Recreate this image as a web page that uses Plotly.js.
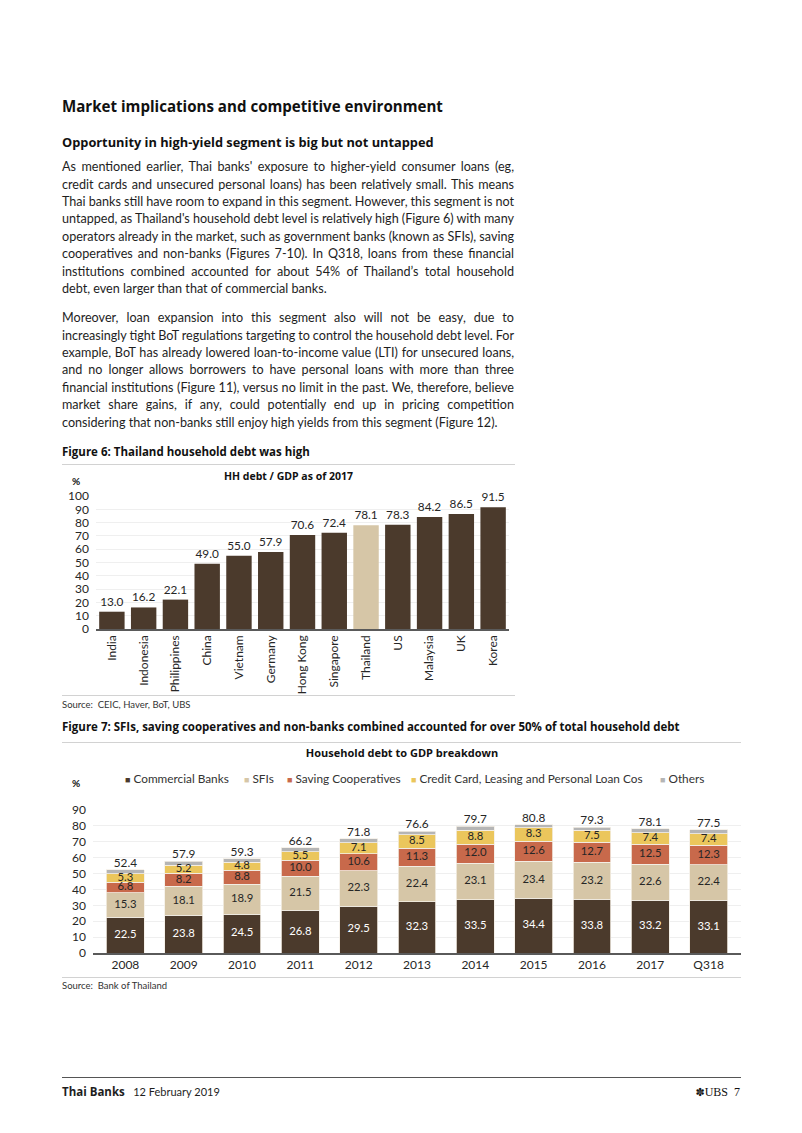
<!DOCTYPE html>
<html><head><meta charset="utf-8">
<script src="https://cdn.plot.ly/plotly-3.0.1.min.js"></script>
<style>
body{margin:0;background:#fff;}
#page{position:relative;width:802px;height:1133px;overflow:hidden;font-family:Lato,sans-serif;color:#1e1e1e;background:#fff;}
.abs{position:absolute;}
.h1{left:62px;top:96px;font-family:'Open Sans';font-weight:700;font-size:15.1px;line-height:20px;color:#111;}
.h2{left:62px;top:133px;font-family:'Open Sans';font-weight:700;font-size:12.8px;line-height:18px;color:#111;}
.para{left:62px;width:452px;font-size:12.6px;line-height:17.4px;}
.jl{white-space:nowrap;height:17.4px;}
.ft{left:62px;font-family:'Open Sans';font-weight:700;font-size:11.5px;line-height:14px;color:#111;}
.rule{height:0;border-top:1px solid #d2d2d2;left:62px;}
.src{left:62px;font-size:9.5px;line-height:12px;color:#333;}
.foot{left:62px;top:1085px;font-size:11px;line-height:14px;}
</style></head>
<body>
<div id="page">
<div class="abs h1">Market implications and competitive environment</div>
<div class="abs h2">Opportunity in high-yield segment is big but not untapped</div>
<div class="abs para" style="top:158.3px">
<div class="jl j"><span>As mentioned earlier, Thai banks' exposure to higher-yield consumer loans (eg,</span></div>
<div class="jl j"><span>credit cards and unsecured personal loans) has been relatively small. This means</span></div>
<div class="jl j"><span>Thai banks still have room to expand in this segment. However, this segment is not</span></div>
<div class="jl j"><span>untapped, as Thailand's household debt level is relatively high (Figure 6) with many</span></div>
<div class="jl j"><span>operators already in the market, such as government banks (known as SFIs), saving</span></div>
<div class="jl j"><span>cooperatives and non-banks (Figures 7-10). In Q318, loans from these financial</span></div>
<div class="jl j"><span>institutions combined accounted for about 54% of Thailand’s total household</span></div>
<div class="jl"><span>debt, even larger than that of commercial banks.</span></div>
</div>
<div class="abs para" style="top:309.3px">
<div class="jl j"><span>Moreover, loan expansion into this segment also will not be easy, due to</span></div>
<div class="jl j"><span>increasingly tight BoT regulations targeting to control the household debt level. For</span></div>
<div class="jl j"><span>example, BoT has already lowered loan-to-income value (LTI) for unsecured loans,</span></div>
<div class="jl j"><span>and no longer allows borrowers to have personal loans with more than three</span></div>
<div class="jl j"><span>financial institutions (Figure 11), versus no limit in the past. We, therefore, believe</span></div>
<div class="jl j"><span>market share gains, if any, could potentially end up in pricing competition</span></div>
<div class="jl"><span>considering that non-banks still enjoy high yields from this segment (Figure 12).</span></div>
</div>

<div class="abs ft" style="top:445px">Figure 6: Thailand household debt was high</div>
<div class="abs rule" style="top:464px;width:453px"></div>
<div class="abs" id="chart1" style="left:62px;top:464px;width:453px;height:232px"></div>
<div class="abs rule" style="top:695px;width:453px"></div>
<div class="abs src" style="top:699px">Source:&nbsp; CEIC, Haver, BoT, UBS</div>

<div class="abs ft" style="top:720px">Figure 7: SFIs, saving cooperatives and non-banks combined accounted for over 50% of total household debt</div>
<div class="abs rule" style="top:742px;width:679px"></div>
<div class="abs" id="chart2" style="left:62px;top:743px;width:680px;height:235px"></div>
<div class="abs rule" style="top:977px;width:679px"></div>
<div class="abs src" style="top:980px">Source:&nbsp; Bank of Thailand</div>

<div class="abs" style="left:62px;top:1077px;width:679px;height:0;border-top:1px solid #555"></div>
<div class="abs foot"><span style="font-family:'Open Sans';font-weight:700;font-size:11.5px">Thai Banks</span>&nbsp;&nbsp; 12 February 2019</div>
<div class="abs" style="right:62px;top:1085px;font-size:12px;line-height:14px;font-family:'Liberation Serif',serif;color:#111"><span style="font-family:'DejaVu Sans';font-size:11px">✽</span>UBS&nbsp; 7</div>
</div>

<script>
// ---------- Figure 6 data ----------
const countries = ['India','Indonesia','Philippines','China','Vietnam','Germany','Hong Kong','Singapore','Thailand','US','Malaysia','UK','Korea'];
const hhDebtToGdp = [13.0,16.2,22.1,49.0,55.0,57.9,70.6,72.4,78.1,78.3,84.2,86.5,91.5];
const highlightCountry = 'Thailand';

// ---------- Figure 7 data ----------
const years = ['2008','2009','2010','2011','2012','2013','2014','2015','2016','2017','Q318'];
const commercialBanks = [22.5,23.8,24.5,26.8,29.5,32.3,33.5,34.4,33.8,33.2,33.1];
const sfis = [15.3,18.1,18.9,21.5,22.3,22.4,23.1,23.4,23.2,22.6,22.4];
const savingCoops = [6.8,8.2,8.8,10.0,10.6,11.3,12.0,12.6,12.7,12.5,12.3];
const creditCardCos = [5.3,5.2,4.8,5.5,7.1,8.5,8.8,8.3,7.5,7.4,7.4];
const others = [2.5,2.6,2.3,2.4,2.3,2.1,2.3,2.1,2.1,2.4,2.3];
const totals = [52.4,57.9,59.3,66.2,71.8,76.6,79.7,80.8,79.3,78.1,77.5];

const C = {brown:'#4b3a2c', tan:'#d6c6a7', rust:'#c8694b', gold:'#ebc65c', grey:'#b5b5b5', text:'#262626'};
const FONT = 'Lato, "Open Sans", sans-serif';

// justify lines
document.querySelectorAll('.jl.j').forEach(el=>{
  const sp = el.querySelector('span');
  const w = sp.getBoundingClientRect().width;
  const n = (sp.textContent.match(/ /g)||[]).length;
  if(n) sp.style.wordSpacing = ((452 - w)/n) + 'px';
});

// ---------- Chart 1 ----------
const c1H = 232, c1T = 32, c1B = 67, c1L = 34, c1R = 6;
const tr1 = {
  type:'bar', x:countries, y:hhDebtToGdp,
  marker:{color:countries.map(c=>c===highlightCountry?C.tan:C.brown)},
  text:hhDebtToGdp.map(v=>v.toFixed(1)), textposition:'outside', constraintext:'none',
  textfont:{size:11.8,color:C.text,family:FONT}, cliponaxis:false, hoverinfo:'skip'
};
const lay1 = {
  width:453, height:c1H, margin:{l:c1L,r:c1R,t:c1T,b:c1B},
  paper_bgcolor:'rgba(0,0,0,0)', plot_bgcolor:'rgba(0,0,0,0)',
  font:{family:FONT,size:12,color:C.text}, showlegend:false, bargap:0.2,
  title:{text:'<b>HH debt / GDP as of 2017</b>', x:0.5, xref:'container', xanchor:'center',
         y:1-12/c1H, yref:'container', yanchor:'middle', font:{family:'"Open Sans", sans-serif',size:10.5,color:'#111'}},
  xaxis:{type:'category', tickangle:-90, showline:true, linecolor:'#5a5a5a', linewidth:1.5, ticks:'', tickfont:{size:12}, fixedrange:true},
  yaxis:{range:[0,100], dtick:10, showgrid:true, gridcolor:'#efefef', zeroline:false, ticks:'', ticklabelstandoff:6, tickfont:{size:12}, fixedrange:true},
  annotations:[{text:'<b>%</b>', xref:'paper', yref:'paper', x:(70-96)/413, y:(629-481)/133, xanchor:'left', yanchor:'middle', showarrow:false, font:{size:10,color:'#111'}}]
};
Plotly.newPlot('chart1',[tr1],lay1,{displayModeBar:false,staticPlot:true});

// ---------- Chart 2 ----------
const series = [
  {name:'Commercial Banks', y:commercialBanks, color:C.brown, lab:'#ffffff', show:true},
  {name:'SFIs', y:sfis, color:C.tan, lab:C.text, show:true},
  {name:'Saving Cooperatives', y:savingCoops, color:C.rust, lab:C.text, show:true},
  {name:'Credit Card, Leasing and Personal Loan Cos', y:creditCardCos, color:C.gold, lab:C.text, show:true},
  {name:'Others', y:others, color:C.grey, lab:C.text, show:false}
];
const traces2 = [];
const base = years.map(()=>0);
series.forEach(s=>{
  traces2.push({type:'bar', name:s.name, x:years, y:s.y, marker:{color:s.color, line:{color:'#f4efe6', width:0.8}}, hoverinfo:'skip'});
  const mids = s.y.map((v,i)=>base[i]+v/2);
  s.y.forEach((v,i)=>base[i]+=v);
  if(s.show) traces2.push({type:'scatter', mode:'text', x:years, y:mids, text:s.y.map(v=>v.toFixed(1)),
     textposition:'middle center', textfont:{size:11.3,color:s.lab,family:FONT}, cliponaxis:false, hoverinfo:'skip'});
});
traces2.push({type:'scatter', mode:'text', x:years, y:totals, text:totals.map(v=>v.toFixed(1)),
  textposition:'top center', textfont:{size:11.8,color:C.text,family:FONT}, cliponaxis:false, hoverinfo:'skip'});

const c2H = 235, c2T = 67, c2B = 25, c2L = 31, c2R = 1, c2W = 680;
const pw2 = c2W - c2L - c2R, ph2 = c2H - c2T - c2B;
const legendX = [123, 242, 285, 409, 658];
const legAnn = series.map((s,i)=>({
  text:'<span style="color:'+s.color+';font-size:9px">■</span> '+s.name,
  xref:'paper', yref:'paper', x:(legendX[i]-(62+c2L))/pw2, y:(953-778)/ph2,
  xanchor:'left', yanchor:'middle', showarrow:false, font:{size:11.8,color:'#333',family:FONT}
}));
const lay2 = {
  width:c2W, height:c2H, margin:{l:c2L,r:c2R,t:c2T,b:c2B},
  paper_bgcolor:'rgba(0,0,0,0)', plot_bgcolor:'rgba(0,0,0,0)',
  font:{family:FONT,size:12,color:C.text}, showlegend:false, barmode:'stack', bargap:0.35,
  title:{text:'<b>Household debt to GDP breakdown</b>', x:0.5, xref:'container', xanchor:'center',
         y:1-10/c2H, yref:'container', yanchor:'middle', font:{family:'"Open Sans", sans-serif',size:11,color:'#111'}},
  xaxis:{type:'category', showline:true, linecolor:'#5a5a5a', linewidth:1.5, ticks:'', tickfont:{size:12}, fixedrange:true},
  yaxis:{range:[0,90], dtick:10, showgrid:true, gridcolor:'#efefef', zeroline:false, ticks:'', ticklabelstandoff:6, tickfont:{size:12}, fixedrange:true},
  annotations:[{text:'<b>%</b>', xref:'paper', yref:'paper', x:(70-93)/pw2, y:(953-783)/ph2, xanchor:'left', yanchor:'middle', showarrow:false, font:{size:10,color:'#111'}}].concat(legAnn)
};
Plotly.newPlot('chart2',traces2,lay2,{displayModeBar:false,staticPlot:true});
</script>
</body></html>
